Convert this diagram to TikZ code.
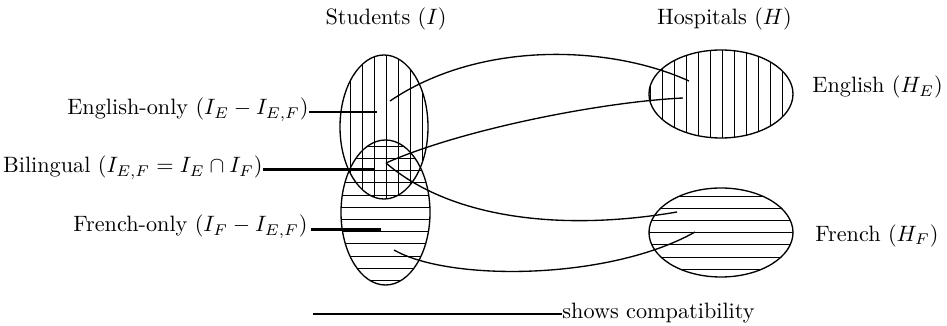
\documentclass[tikz,border=0pt]{standalone}
\usetikzlibrary{shapes.geometric}
\begin{document}
\begin{tikzpicture}[x=0.45pt,y=-0.45pt,
  ell/.style 2 args={ellipse, draw, line width=0.6pt, minimum width=#1*0.45pt, minimum height=#2*0.45pt, inner sep=0pt},
  hatch/.style={line width=0.4pt},
  link/.style={line width=0.6pt},
  pointer/.style={line width=1.3pt},
  lbl/.style={inner sep=0pt}]
\useasboundingbox (0,0) rectangle (947,326);

% hatching
\begin{scope}
  \clip (384,127) ellipse [x radius=44, y radius=72];
  \foreach \x in {350,362,...,422} \draw[hatch] (\x,50) -- (\x,205);
\end{scope}
\begin{scope}
  \clip (385.5,212.5) ellipse [x radius=44.5, y radius=72.5];
  \foreach \y in {146.2,158.4,...,285} \draw[hatch] (335,\y) -- (436,\y);
\end{scope}
\begin{scope}
  \clip (721,94) ellipse [x radius=72, y radius=44];
  \foreach \x in {650.7,662.7,...,794} \draw[hatch] (\x,45) -- (\x,143);
\end{scope}
\begin{scope}
  \clip (721,232.5) ellipse [x radius=72, y radius=44.5];
  \foreach \y in {196,208.2,...,276} \draw[hatch] (645,\y) -- (797,\y);
\end{scope}

% sets
\node[ell={88}{144}] (SE) at (384,127) {};
\node[ell={89}{145}] (SF) at (385.5,212.5) {};
\node[ell={144}{88}] (HE) at (721,94) {};
\node[ell={144}{89}] (HF) at (721,232.5) {};

% compatibility links
\coordinate (eo) at (390,101);
\coordinate (bi) at (386,163);
\coordinate (fo) at (394,250);
\coordinate (he1) at (689,81);
\coordinate (he2) at (683,98);
\coordinate (hf1) at (677,212);
\coordinate (hf2) at (695,232);
\draw[link] (eo) .. controls (480,40) and (610,45) .. (he1);
\draw[link] (bi) .. controls (460,130) and (600,102) .. (he2);
\draw[link] (bi) .. controls (450,218) and (560,232) .. (hf1);
\draw[link] (fo) .. controls (450,282) and (610,280) .. (hf2);

% labels
\node[lbl, anchor=base] (tS) at (386,25) {Students ($I$)};
\node[lbl, anchor=base] (tH) at (724.5,25) {Hospitals ($H$)};
\node[lbl, anchor=base west] (tHE) at (812,93) {English ($H_E$)};
\node[lbl, anchor=base west] (tHF) at (815,241.5) {French ($H_F$)};

\node[lbl, anchor=base east] (teo) at (309,115) {English-only ($I_E - I_{E,F}$)};
\node[lbl, anchor=base east] (tbi) at (263,173) {Bilingual ($I_{E,F} = I_E \cap I_F$)};
\node[lbl, anchor=base east] (tfo) at (308,232) {French-only ($I_F - I_{E,F}$)};
\coordinate (peo1) at (309,112); \coordinate (peo2) at (377,112);
\coordinate (pbi1) at (263,169.3); \coordinate (pbi2) at (374,169.3);
\coordinate (pfo1) at (311,229.3); \coordinate (pfo2) at (381,229.3);
\draw[pointer] (peo1) -- (peo2);
\draw[pointer] (pbi1) -- (pbi2);
\draw[pointer] (pfo1) -- (pfo2);

% legend
\node[lbl, anchor=mid west] (lgt) at (562,314) {shows compatibility};
\coordinate (lg1) at (313,314);
\draw[link] (lg1) -- (lgt.mid west);
\end{tikzpicture}
\end{document}
